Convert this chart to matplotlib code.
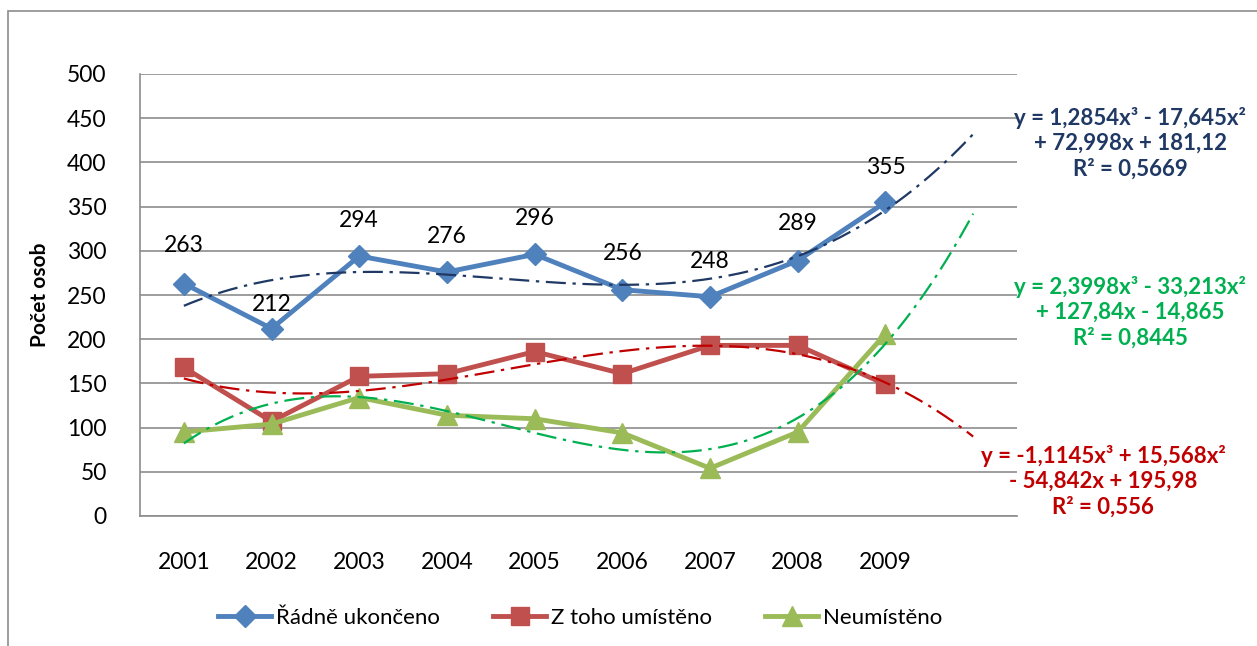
import numpy as np
import matplotlib
matplotlib.use("Agg")
import matplotlib.pyplot as plt
from matplotlib.patches import Rectangle

plt.rcParams["font.family"] = ["Lato", "DejaVu Sans"]

years = ["2001", "2002", "2003", "2004", "2005", "2006", "2007", "2008", "2009"]
radne = [263, 212, 294, 276, 296, 256, 248, 289, 355]
umisteno = [168, 107, 158, 161, 186, 161, 193, 193, 149]
neumisteno = [95, 104, 134, 114, 110, 94, 54, 95, 206]

# trendline coefficients (cubic, x = 1..n), as shown on the chart
coef_radne = [1.2854, -17.645, 72.998, 181.12]
coef_umisteno = [-1.1145, 15.568, -54.842, 195.98]
coef_neumisteno = [2.3998, -33.213, 127.84, -14.865]

eq_radne = "y = 1,2854x³ - 17,645x²\n+ 72,998x + 181,12\nR² = 0,5669"
eq_neumisteno = "y = 2,3998x³ - 33,213x²\n+ 127,84x - 14,865\nR² = 0,8445"
eq_umisteno = "y = -1,1145x³ + 15,568x²\n- 54,842x + 195,98\nR² = 0,556"

label_offsets = [38, 24, 36, 36, 36, 36, 35, 37, 35]

W, H = 1257, 646
fig = plt.figure(figsize=(W / 100, H / 100), dpi=100)
ax = fig.add_axes([140 / W, 1 - 516 / H, (1017 - 140) / W, (516 - 74) / H])

# outer chart border
fig.patches.append(Rectangle((8 / W, -0.1), 1.2, 1 - 11 / H + 0.1, transform=fig.transFigure,
                             fill=False, edgecolor="#8c8c8c", linewidth=1.2))

x = np.arange(1, len(years) + 1)

ax.plot(x, radne, color="#4F81BD", lw=3.5, marker="D", ms=11, label="Řádně ukončeno", zorder=3)
ax.plot(x, umisteno, color="#C0504D", lw=3.5, marker="s", ms=13, label="Z toho umístěno", zorder=3)
ax.plot(x, neumisteno, color="#9BBB59", lw=3.5, marker="^", ms=14, label="Neumístěno", zorder=3)

xt = np.linspace(1, len(years) + 1, 200)
dash = (0, (9, 3, 1.5, 3))
ax.plot(xt, np.polyval(coef_radne, xt), color="#1F3864", lw=1.6, ls=dash, zorder=4)
ax.plot(xt, np.polyval(coef_umisteno, xt), color="#C00000", lw=1.6, ls=dash, zorder=4)
ax.plot(xt, np.polyval(coef_neumisteno, xt), color="#00B050", lw=1.6, ls=dash, zorder=4)

for xi, v, off in zip(x, radne, label_offsets):
    ax.annotate(str(v), (xi, v), xytext=(0, off * 0.72), textcoords="offset points",
                ha="center", va="center", fontsize=16.5, color="black")

ax.set_xlim(0.5, len(years) + 1.5)
ax.set_ylim(0, 500)
ax.set_yticks(range(0, 501, 50))
ax.set_xticks(x)
ax.set_xticklabels(years)
ax.tick_params(axis="both", length=0, labelsize=16.5)
ax.tick_params(axis="x", pad=26)
ax.tick_params(axis="y", pad=24)
ax.grid(axis="y", color="#8c8c8c", lw=1.2)
ax.set_axisbelow(True)
for s in ["top", "right"]:
    ax.spines[s].set_visible(False)
for s in ["left", "bottom"]:
    ax.spines[s].set_color("#8c8c8c")
    ax.spines[s].set_linewidth(1.2)

ax.set_ylabel("Počet osob", fontsize=15, fontweight="bold", labelpad=12)

fig.text(1130 / W, 1 - 143 / H, eq_radne, color="#1F3864", fontsize=16, fontweight="bold",
         ha="center", va="center", linespacing=1.25)
fig.text(1130 / W, 1 - 312 / H, eq_neumisteno, color="#00B050", fontsize=16, fontweight="bold",
         ha="center", va="center", linespacing=1.25)
fig.text(1103 / W, 1 - 481 / H, eq_umisteno, color="#C00000", fontsize=16, fontweight="bold",
         ha="center", va="center", linespacing=1.25)

fig.legend(loc="center", bbox_to_anchor=(580 / W, 1 - 618 / H), ncol=3, frameon=False,
           fontsize=16, handlelength=2.4, columnspacing=2.4, handletextpad=0.2)

fig.savefig("out.png", dpi=100)
